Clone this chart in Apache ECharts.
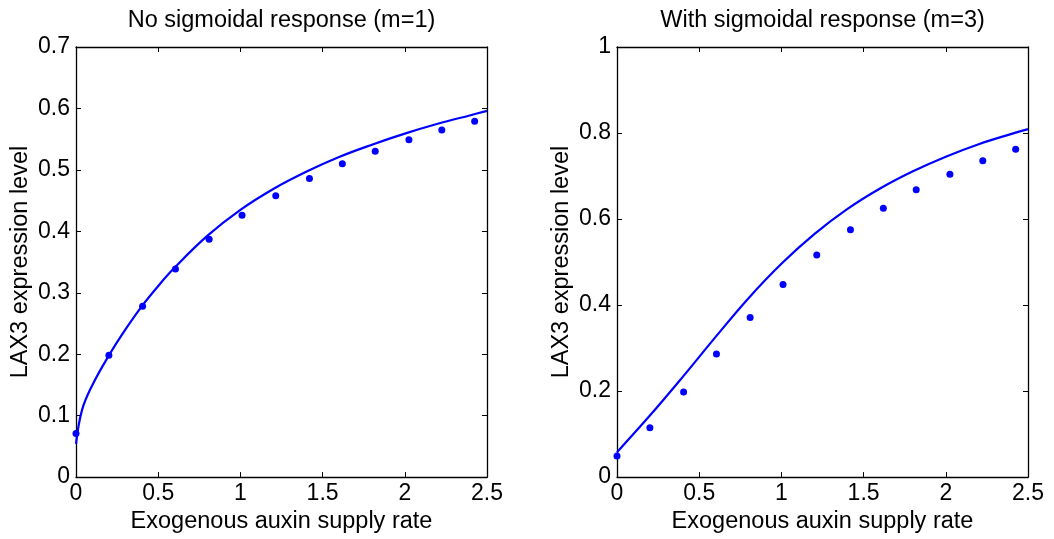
<!DOCTYPE html>
<html>
<head>
<meta charset="utf-8">
<script src="https://cdn.jsdelivr.net/npm/echarts@6/dist/echarts.min.js"></script>
<style>
html,body{margin:0;padding:0;background:#fff;}
#chart{width:1054px;height:539px;}
</style>
</head>
<body>
<div id="chart"></div>
<script>
// ---- data ----
const titles = ['No sigmoidal response (m=1)', 'With sigmoidal response (m=3)'];
const xName = 'Exogenous auxin supply rate';
const yName = 'LAX3 expression level';

// measured points (dots)
const dotX = [0, 0.2, 0.405, 0.605, 0.81, 1.01, 1.215, 1.42, 1.62, 1.82, 2.025, 2.225, 2.425];
const dotsLeft = [0.071, 0.1985, 0.278, 0.3385, 0.387, 0.426, 0.458, 0.486, 0.510, 0.5305, 0.549, 0.565, 0.579];
const dotsRight = [0.049, 0.115, 0.198, 0.286, 0.371, 0.448, 0.5165, 0.575, 0.625, 0.668, 0.704, 0.7356, 0.7625];

// model curves
const curveLeftX = [0, 0.0365, 0.1, 0.2, 0.3, 0.4, 0.5, 0.6, 0.8, 1.0, 1.2, 1.4, 1.6, 1.8, 2.0, 2.2, 2.4, 2.5];
const curveLeftY = [0.054, 0.109, 0.150, 0.198, 0.240, 0.278, 0.311, 0.341, 0.393, 0.435, 0.469, 0.497, 0.521, 0.541, 0.559, 0.575, 0.589, 0.596];
const curveRightX = [0, 0.2, 0.4, 0.6, 0.8, 1.0, 1.2, 1.4, 1.6, 1.8, 2.0, 2.2, 2.4, 2.5];
const curveRightY = [0.058, 0.143, 0.233, 0.326, 0.416, 0.496, 0.565, 0.623, 0.671, 0.711, 0.745, 0.774, 0.798, 0.809];

const xMin = 0, xMax = 2.5, xStep = 0.5;
const yMaxLeft = 0.7, yStepLeft = 0.1;
const yMaxRight = 1, yStepRight = 0.2;

// ---- chart ----
const FONT = 'Liberation Sans, Arial, Helvetica, sans-serif';
const TICK_FS = 23, LABEL_FS = 23.5;
const BLUE = '#0000ff';
const grids = [
  {left: 76, top: 47, width: 411, height: 435},
  {left: 617, top: 47, width: 411, height: 435}
];
const axLine = {show: true, onZero: false, lineStyle: {color: '#000', width: 1.3}};
const tick = {show: true, inside: true, length: 5, lineStyle: {color: '#000', width: 1}};

function pairs(xs, ys) { return xs.map((x, i) => [x, ys[i]]); }

const xAxis = [], yAxis = [];
[0, 1].forEach(g => {
  xAxis.push({
    type: 'value', gridIndex: g, min: xMin, max: xMax, interval: xStep, position: 'bottom',
    axisLine: axLine, axisTick: tick, splitLine: {show: false},
    axisLabel: {color: '#000', fontFamily: FONT, fontSize: TICK_FS, margin: 5},
    name: xName, nameLocation: 'middle', nameGap: 30,
    nameTextStyle: {color: '#000', fontFamily: FONT, fontSize: LABEL_FS}
  });
  xAxis.push({
    type: 'value', gridIndex: g, min: xMin, max: xMax, interval: xStep, position: 'top',
    axisLine: axLine, axisTick: tick, splitLine: {show: false}, axisLabel: {show: false}
  });
  const ymax = g === 0 ? yMaxLeft : yMaxRight;
  const ystep = g === 0 ? yStepLeft : yStepRight;
  yAxis.push({
    type: 'value', gridIndex: g, min: 0, max: ymax, interval: ystep, position: 'left',
    axisLine: axLine, axisTick: tick, splitLine: {show: false},
    axisLabel: {color: '#000', fontFamily: FONT, fontSize: TICK_FS, margin: 6},
    name: yName, nameLocation: 'middle', nameGap: 43, nameRotate: 90,
    nameTextStyle: {color: '#000', fontFamily: FONT, fontSize: LABEL_FS}
  });
  yAxis.push({
    type: 'value', gridIndex: g, min: 0, max: ymax, interval: ystep, position: 'right',
    axisLine: axLine, axisTick: tick, splitLine: {show: false}, axisLabel: {show: false}
  });
});

const series = [
  {type: 'line', xAxisIndex: 0, yAxisIndex: 0, data: pairs(curveLeftX, curveLeftY), showSymbol: false,
   smooth: 0.4, lineStyle: {color: BLUE, width: 2.2}, z: 3},
  {type: 'scatter', xAxisIndex: 0, yAxisIndex: 0, data: pairs(dotX, dotsLeft), symbolSize: 7,
   itemStyle: {color: BLUE, opacity: 1}, z: 4},
  {type: 'line', xAxisIndex: 2, yAxisIndex: 2, data: pairs(curveRightX, curveRightY), showSymbol: false,
   smooth: 0.4, lineStyle: {color: BLUE, width: 2.2}, z: 3},
  {type: 'scatter', xAxisIndex: 2, yAxisIndex: 2, data: pairs(dotX, dotsRight), symbolSize: 7,
   itemStyle: {color: BLUE, opacity: 1}, z: 4}
];

const graphic = titles.map((t, i) => ({
  type: 'text',
  x: grids[i].left + grids[i].width / 2,
  y: 21,
  style: {text: t, align: 'center', verticalAlign: 'middle', fill: '#000',
          font: LABEL_FS + 'px ' + FONT}
}));

const chart = echarts.init(document.getElementById('chart'), null, {renderer: 'canvas'});
chart.setOption({
  animation: false,
  backgroundColor: '#fff',
  grid: grids,
  xAxis: xAxis,
  yAxis: yAxis,
  series: series,
  graphic: graphic
});
</script>
</body>
</html>
